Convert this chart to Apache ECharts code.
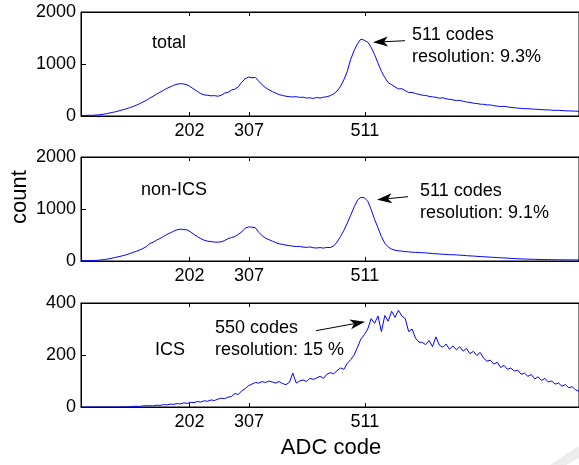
<!DOCTYPE html>
<html>
<head>
<meta charset="utf-8">
<script src="https://cdn.jsdelivr.net/npm/echarts@6/dist/echarts.min.js"></script>
<style>
html, body { margin: 0; padding: 0; background: #fff; }
#main { width: 579px; height: 465px; }
</style>
</head>
<body>
<div id="main"></div>
<script>
// ADC code bins (x values)
var codes = [
    12,18,24,30,36,42,48,54,60,66,
    72,78,84,90,96,102,108,114,120,126,
    132,138,144,150,156,162,168,174,180,186,
    192,198,204,210,216,222,228,234,240,246,
    252,258,264,270,276,282,288,294,300,306,
    312,318,324,330,336,342,348,354,360,366,
    372,378,384,390,396,402,408,414,420,426,
    432,438,444,450,456,462,468,474,480,486,
    492,498,504,510,516,522,528,534,540,546,
    552,558,564,570,576,582,588,594,600,606,
    612,618,624,630,636,642,648,654,660,666,
    672,678,684,690,696,702,708,714,720,726,
    732,738,744,750,756,762,768,774,780,786,
    792,798,804,810,816,822,828,834,840,846,
    852,858,864,870,876,882,888
];

// counts, panel "total"
var totalCounts = [
    12,10,14,12,18,22,30,40,55,68,
    82,100,118,135,158,180,205,236,268,300,
    345,378,420,455,492,530,560,590,612,622,
    615,600,560,515,472,430,405,398,388,392,
    380,398,440,455,500,515,560,650,715,750,
    735,742,670,600,545,505,470,440,410,395,
    380,372,366,372,358,362,345,350,338,356,
    345,362,370,392,425,480,570,700,860,1090,
    1260,1390,1480,1455,1420,1320,1180,1020,860,740,
    640,602,560,520,525,488,452,455,430,418,
    400,395,378,368,360,342,350,330,322,310,
    296,302,282,270,262,246,240,228,225,212,
    214,198,190,182,186,175,165,160,150,148,
    140,142,135,130,128,122,118,118,112,108,
    110,104,100,98,96,92,90
];

// counts, panel "non-ICS"
var nonIcsCounts = [
    8,6,9,7,12,15,22,30,42,55,
    70,85,100,118,140,162,185,210,240,275,
    335,360,400,432,470,510,540,572,600,612,
    605,598,560,510,468,430,398,382,372,365,
    362,370,392,430,452,470,512,560,630,655,
    652,640,550,490,440,410,382,352,330,320,
    305,296,285,278,280,268,262,270,255,250,
    258,248,262,258,290,365,470,590,730,880,
    1040,1170,1225,1215,1150,990,800,640,470,340,
    270,228,208,196,190,182,176,170,166,162,
    160,156,150,142,140,134,130,126,122,120,
    118,112,108,102,98,95,90,86,82,78,
    74,70,66,62,58,55,50,47,44,40,
    38,36,34,32,30,28,27,26,25,24,
    24,23,22,22,21,21,20
];

// counts, panel "ICS"
var icsCounts = [
    0,0,0,0,0,0,0,0,0,0,
    0,0,1,0,1,2,3,2,4,5,
    5,4,7,6,9,8,11,10,13,12,
    16,14,18,17,21,19,24,22,27,25,
    30,34,32,38,40,52,48,62,70,82,
    88,94,92,98,94,100,96,92,98,90,
    86,95,130,92,100,104,98,110,106,112,
    118,110,126,132,128,140,150,145,168,182,
    200,230,262,278,300,340,322,350,290,352,
    330,368,345,372,350,340,290,300,265,250,
    248,240,256,232,270,238,230,242,222,235,
    220,232,215,225,205,214,198,210,188,176,
    180,165,172,152,160,145,150,138,142,126,
    130,118,125,108,116,102,110,96,100,88,
    92,80,86,74,78,66,60
];

var adcTicks = [202, 307, 511];
var yMaxes = [2000, 2000, 400];
var panelCounts = [totalCounts, nonIcsCounts, icsCounts];

var FONT = '"Liberation Sans", Arial, Helvetica, sans-serif';
var gridTops = [12, 157, 303];

var chart = echarts.init(document.getElementById('main'));

var grids = [], xAxes = [], yAxes = [], series = [];
for (var i = 0; i < 3; i++) {
    grids.push({
        left: 81, right: 0, top: gridTops[i], height: 104,
        show: true, borderColor: '#000', borderWidth: 1
    });
    xAxes.push({
        gridIndex: i, type: 'value', min: 11, max: 888, position: 'bottom',
        axisLine: { show: true, onZero: false, lineStyle: { color: '#000', width: 1 } },
        axisTick: { show: true, inside: true, length: 4, customValues: adcTicks, lineStyle: { color: '#000' } },
        axisLabel: { customValues: adcTicks, fontSize: 18, color: '#000', margin: 6, fontFamily: FONT },
        splitLine: { show: false }
    });
    xAxes.push({
        gridIndex: i, type: 'value', min: 11, max: 888, position: 'top',
        axisLine: { show: true, onZero: false, lineStyle: { color: '#000', width: 1 } },
        axisTick: { show: true, inside: true, length: 4, customValues: adcTicks, lineStyle: { color: '#000' } },
        axisLabel: { show: false },
        splitLine: { show: false }
    });
    yAxes.push({
        gridIndex: i, type: 'value', min: 0, max: yMaxes[i], interval: yMaxes[i] / 2,
        axisLine: { show: true, onZero: false, lineStyle: { color: '#000', width: 1 } },
        axisTick: { show: true, inside: true, length: 5, lineStyle: { color: '#000' } },
        axisLabel: { fontSize: 18, color: '#000', margin: 5, fontFamily: FONT,
            formatter: function (v) { return String(v); } },
        splitLine: { show: false }
    });
    var vals = panelCounts[i];
    series.push({
        type: 'line',
        xAxisIndex: 2 * i, yAxisIndex: i,
        data: codes.map(function (c, k) { return [c, vals[k]]; }),
        showSymbol: false,
        lineStyle: { color: '#0000ff', width: 1 },
        itemStyle: { color: '#0000ff' },
        animation: false
    });
}

// arrow from tail (x1,y1) to head (x2,y2)
function arrow(x1, y1, x2, y2) {
    var dx = x2 - x1, dy = y2 - y1;
    var len = Math.sqrt(dx * dx + dy * dy);
    var ux = dx / len, uy = dy / len, px = -uy, py = ux;
    var L = 15, W = 5, N = 11;
    var bx = x2 - ux * L, by = y2 - uy * L;
    var nx = x2 - ux * N, ny = y2 - uy * N;
    return [
        { type: 'line', shape: { x1: x1, y1: y1, x2: nx, y2: ny }, style: { stroke: '#000', lineWidth: 1 } },
        { type: 'polygon', shape: { points: [[x2, y2], [bx + px * W, by + py * W], [nx, ny], [bx - px * W, by - py * W]] },
          style: { fill: '#000' } }
    ];
}

function label(text, x, y, size) {
    return { type: 'text', x: x, y: y,
        style: { text: text, fontSize: size || 18, fontFamily: FONT, fill: '#000', align: 'left', verticalAlign: 'middle' } };
}

var graphics = [
    label('total', 152, 43),
    label('511 codes', 412, 35),
    label('resolution: 9.3%', 412, 57),
    label('non-ICS', 141, 190),
    label('511 codes', 420, 191),
    label('resolution: 9.1%', 420, 213),
    label('ICS', 155, 350),
    label('550 codes', 215, 328),
    label('resolution: 15 %', 215, 350),
    { type: 'text', x: 331, y: 448,
      style: { text: 'ADC code', fontSize: 22, fontFamily: FONT, fill: '#000', align: 'center', verticalAlign: 'middle' } },
    { type: 'text', x: 20, y: 197, rotation: Math.PI / 2,
      style: { text: 'count', fontSize: 22, fontFamily: FONT, fill: '#000', align: 'center', verticalAlign: 'middle' } },
    { type: 'polygon', shape: { points: [[550, 465], [579, 446], [579, 458], [566, 465]] },
      style: { fill: '#ececec' } }
]
.concat(arrow(405, 40.7, 373, 42.3))
.concat(arrow(408, 196.7, 377, 199.7))
.concat(arrow(316, 330.7, 365, 321.7));

chart.setOption({
    animation: false,
    backgroundColor: '#fff',
    grid: grids,
    xAxis: xAxes,
    yAxis: yAxes,
    series: series,
    graphic: graphics
});
</script>
</body>
</html>
